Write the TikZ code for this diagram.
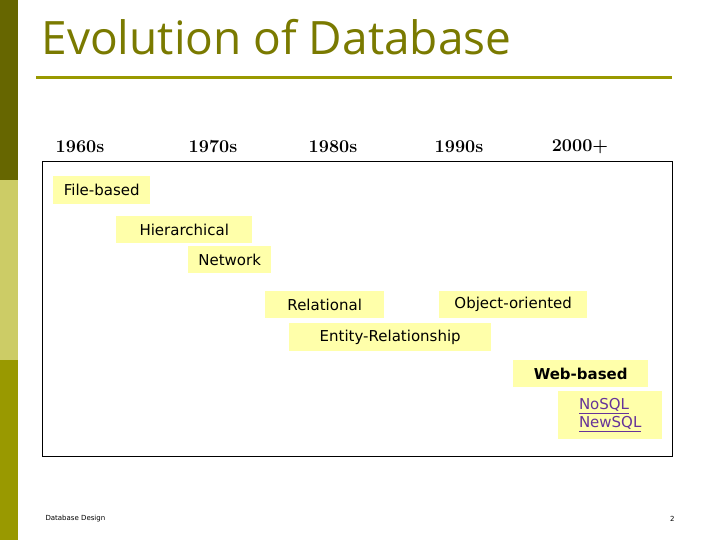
\documentclass[tikz,border=0pt]{standalone}
\usepackage{fontspec}
\newfontfamily\verdana{DejaVu Sans}
\newfontfamily\titlefont{Open Sans}
\newcommand{\linkline}[1]{\underline{#1}}
\definecolor{olivedark}{HTML}{666600}
\definecolor{olivelight}{HTML}{CCCC66}
\definecolor{olivemid}{HTML}{999900}
\definecolor{boxyellow}{HTML}{FFFFAA}
\definecolor{linkpurple}{HTML}{663399}
\begin{document}
\begin{tikzpicture}[x=1pt,y=-1pt,
        era/.style={rectangle, fill=boxyellow, font=\verdana\fontsize{15}{18}\selectfont, inner sep=0pt, anchor=north west},
        year/.style={font=\bfseries\fontsize{18}{20}\selectfont},
        foot/.style={font=\verdana\fontsize{7}{8}\selectfont},
        ]
        \useasboundingbox (0,0) rectangle (720,540);
        % side strip
        \fill[olivedark] (0,0) rectangle (18,180);
        \fill[olivelight] (0,180) rectangle (18,360);
        \fill[olivemid] (0,360) rectangle (18,540);
        % title
        \node[anchor=west, text=olivemid!80!black, font=\titlefont\fontsize{46}{50}\selectfont] (TITLE) at (38,37) {Evolution of Database};
        \draw[olivemid, line width=3pt] (36,78) -- (672,78);
        % years
        \node[year] (Y60) at (80,147) {1960s};
        \node[year] (Y70) at (213,147) {1970s};
        \node[year] (Y80) at (333,147) {1980s};
        \node[year] (Y90) at (459,147) {1990s};
        \node[year] (Y00) at (580,147) {2000+};
        % frame
        \draw[black, thick] (42,161) rectangle (672,456);
        % eras
        \node[era, minimum width=97, minimum height=28] (FILE) at (53,176) {File-based};
        \node[era, minimum width=136, minimum height=27] (HIER) at (116,216) {Hierarchical};
        \node[era, minimum width=83, minimum height=27] (NET) at (188,246) {Network};
        \node[era, minimum width=119, minimum height=27] (REL) at (265,291) {Relational};
        \node[era, minimum width=148, minimum height=27] (OO) at (439,291) {Object-oriented};
        \node[era, minimum width=202, minimum height=28] (ER) at (289,323) {Entity-Relationship};
        \node[era, minimum width=135, minimum height=27, font=\verdana\bfseries\fontsize{15}{18}\selectfont] (WEB) at (513,360) {Web-based};
        \node[era, minimum width=104, minimum height=48, align=left, text=linkpurple] (NOSQL) at (558,391) {\linkline{NoSQL}\\\linkline{NewSQL}};
        % footer
        \node[foot, anchor=west] (FOOT) at (42,519) {Database Design};
        \node[foot, anchor=east] (PAGE) at (678,519) {2};
\end{tikzpicture}
\end{document}
